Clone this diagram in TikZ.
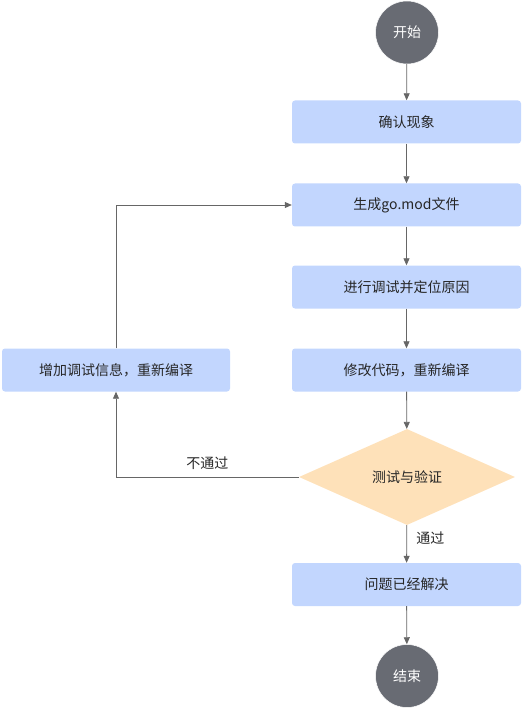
\documentclass[tikz,border=0pt]{standalone}
\usepackage{fontspec}
\setmainfont{Noto Sans CJK SC}
\usetikzlibrary{shapes.geometric,arrows.meta}
\definecolor{boxblue}{HTML}{C2D6FE}
\definecolor{diafill}{HTML}{FEE1B9}
\definecolor{circfill}{HTML}{686B73}
\definecolor{linegray}{HTML}{666666}
\begin{document}
\begin{tikzpicture}[x=1pt,y=-1pt,
  every node/.style={font=\fontsize{14}{16}\selectfont, text=black!85},
  procbox/.style={draw=none, fill=boxblue, rounded corners=3pt, minimum width=229pt, minimum height=43pt, inner sep=0pt},
  termcirc/.style={circle, fill=circfill, draw=white, line width=0.5pt, minimum size=63pt, inner sep=0pt, text=white},
  decide/.style={diamond, fill=diafill, draw=none, minimum width=216pt, minimum height=96pt, inner sep=0pt, aspect=2.25},
  conn/.style={draw=linegray, line width=0.8pt, -{Triangle[length=7pt,width=6pt]}},
  lbl/.style={font=\fontsize{14}{16}\selectfont}
]
\useasboundingbox (0,0) rectangle (523,708);
\node[termcirc] (start) at (407,32.5) {开始};
\node[procbox] (b1) at (406.5,122) {确认现象};
\node[procbox] (b2) at (406.5,205) {生成go.mod文件};
\node[procbox] (b3) at (406.5,287) {进行调试并定位原因};
\node[procbox] (b4) at (406.5,370) {修改代码，重新编译};
\node[decide] (d) at (407,477) {测试与验证};
\node[procbox] (b5) at (406.5,584.5) {问题已经解决};
\node[termcirc] (end) at (407,676) {结束};
\node[procbox, minimum width=228pt] (lb) at (116,370) {增加调试信息，重新编译};
\coordinate (c1) at (116,477);
\coordinate (c2) at (116,205);

\draw[conn] (start) -- (b1);
\draw[conn] (b1) -- (b2);
\draw[conn] (b2) -- (b3);
\draw[conn] (b3) -- (b4);
\draw[conn] (b4) -- (d);
\draw[conn] (d) -- node[lbl, right=6pt, pos=0.35] {通过} (b5);
\draw[conn] (b5) -- (end);
\draw[conn] (d.west) -- node[lbl, above=4pt, pos=0.5] {不通过} (c1) -- (lb.south);
\draw[conn] (lb.north) -- (c2) -- (b2.west);
\end{tikzpicture}
\end{document}
